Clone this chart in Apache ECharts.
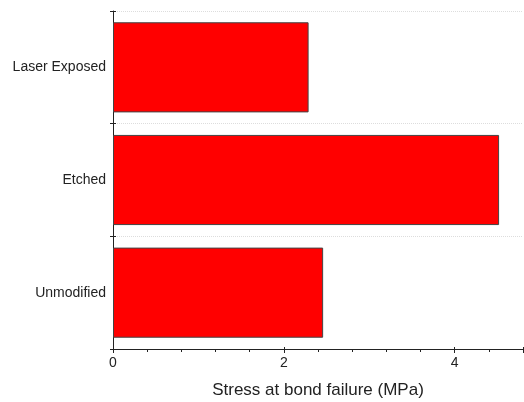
<!DOCTYPE html>
<html><head><meta charset="utf-8">
<script src="https://cdn.jsdelivr.net/npm/echarts@6/dist/echarts.min.js"></script>
<style>html,body{margin:0;padding:0;background:#fff}#c{width:524px;height:402px}</style>
</head><body><div id="c"></div>
<script>
const categories = ['Unmodified', 'Etched', 'Laser Exposed'];
const stress = [2.46, 4.52, 2.29];
const xTitle = 'Stress at bond failure (MPa)';

const chart = echarts.init(document.getElementById('c'), null, {renderer: 'canvas'});
const font = 'Liberation Sans, Arial, sans-serif';
chart.setOption({
  animation: false,
  grid: {left: 113, top: 11, right: 1, bottom: 53, outerBoundsMode: 'none', containLabel: false},
  xAxis: [{
    type: 'value', min: 0, max: 4.8, interval: 2,
    axisLine: {show: true, lineStyle: {color: '#222', width: 1}},
    axisTick: {show: true, length: 4, lineStyle: {color: '#222'}},
    minorTick: {show: true, splitNumber: 5, length: 3, lineStyle: {color: '#222'}},
    axisLabel: {color: '#222', fontFamily: font, fontSize: 14, margin: 7, showMaxLabel: false},
    splitLine: {show: false},
    name: xTitle, nameLocation: 'middle', nameGap: 33,
    nameTextStyle: {color: '#222', fontFamily: font, fontSize: 17}
  }, {
    type: 'value', min: 0, max: 4.8, interval: 2, position: 'bottom',
    axisLine: {show: false},
    axisTick: {show: true, inside: true, length: 2, lineStyle: {color: '#222'}},
    minorTick: {show: false},
    axisLabel: {show: false}, splitLine: {show: false}
  }],
  yAxis: [{
    type: 'category', data: categories,
    axisLine: {show: true, lineStyle: {color: '#222', width: 1}},
    axisTick: {show: true, length: 3, lineStyle: {color: '#222'}},
    axisLabel: {color: '#222', fontFamily: font, fontSize: 14, margin: 7},
    splitLine: {show: true, lineStyle: {color: '#ddd', type: 'dotted'}}
  }, {
    type: 'category', data: categories, position: 'left',
    axisLine: {show: false},
    axisTick: {show: true, inside: true, length: 3, lineStyle: {color: '#222'}},
    axisLabel: {show: false}, splitLine: {show: false}
  }],
  series: [{
    type: 'bar', data: stress, barWidth: '80%',
    itemStyle: {color: '#ff0000', borderColor: '#444', borderWidth: 1}
  }]
});
</script></body></html>
